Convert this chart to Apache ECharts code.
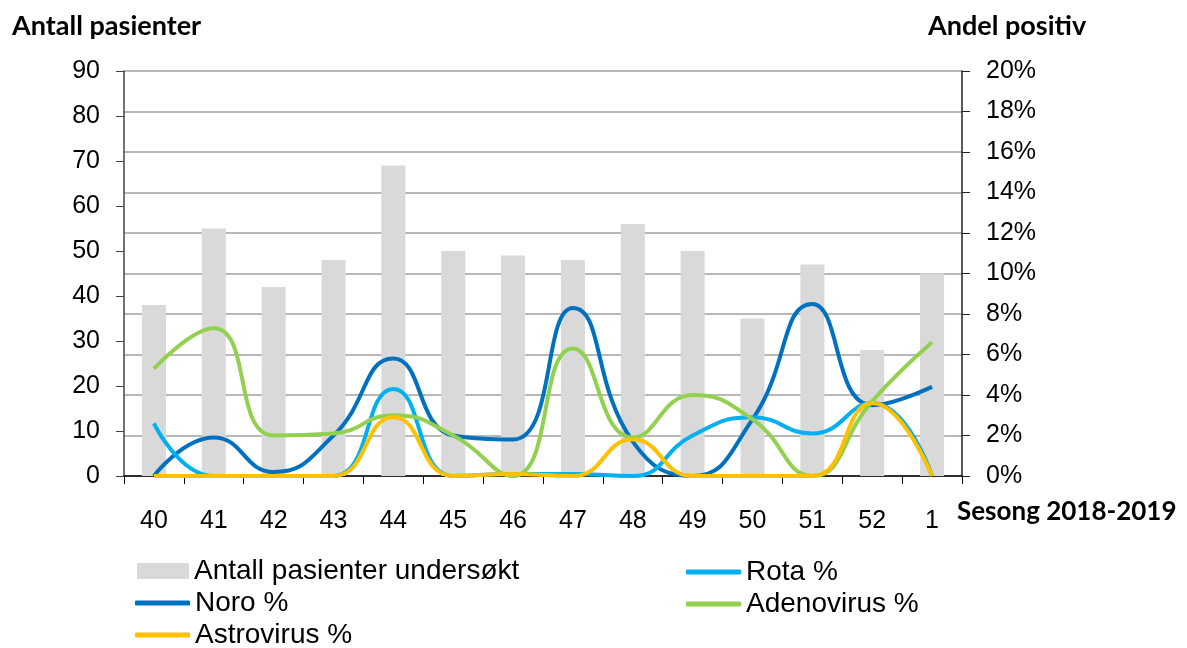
<html lang="no">
<head>
<meta charset="UTF-8">
<title>Antall pasienter</title>
<script src="https://cdn.jsdelivr.net/npm/echarts@6/dist/echarts.min.js"></script>
<style>body{margin:0;background:#fff;}</style>
</head>
<body>
<div id="main" style="width:1187px;height:648px;"></div>
<script type="text/javascript">
var uker = ['40','41','42','43','44','45','46','47','48','49','50','51','52','1'];
var antall = [38,55,42,48,69,50,49,48,56,50,35,47,28,45];
var noro = [0,1.9,0.2,2.0,5.8,2.0,1.8,8.3,1.7,0,2.8,8.5,3.5,4.4];
var rota = [2.6,0,0,0,4.3,0,0.1,0.1,0,2.0,2.9,2.1,3.6,0];
var adeno = [5.3,7.3,2.0,2.1,3.0,2.0,0,6.3,1.9,4.0,2.8,0,3.7,6.6];
var astro = [0,0,0,0,2.9,0,0.1,0,1.8,0,0,0,3.6,0];

var font = 'Liberation Sans, Arial, sans-serif';
var titleFont = 'Lato, sans-serif';

function lineSerie(name, data, color){
	return {
		name: name,
		type: 'line',
		yAxisIndex: 1,
		data: data,
		smooth: 0.5,
		showSymbol: false,
		symbol: 'none',
		lineStyle: {color: color, width: 4},
		itemStyle: {color: color}
	};
}
function legendItem(name, left, top, isBar){
	return {
		data: [name],
		left: left,
		top: top,
		icon: isBar ? 'rect' : 'roundRect',
		itemWidth: isBar ? 52 : 55,
		itemHeight: isBar ? 16 : 5,
		itemGap: 0,
		padding: 0,
		textStyle: {fontFamily: font, fontSize: 28, color: '#000'}
	};
}

var chart = echarts.init(document.getElementById('main'));
var option = {
	animation: false,
	backgroundColor: '#fff',
	title: [
		{text: 'Antall pasienter', left: 7, top: 8, textStyle: {fontFamily: titleFont, fontWeight: 'bold', fontSize: 27, color: '#000'}},
		{text: 'Andel positiv', left: 923, top: 8, textStyle: {fontFamily: titleFont, fontWeight: 'bold', fontSize: 27, color: '#000'}},
		{text: 'Sesong 2018-2019', left: 952, top: 494, textStyle: {fontFamily: titleFont, fontWeight: 'bold', fontSize: 26, color: '#000'}}
	],
	legend: [
		legendItem('Antall pasienter undersøkt', 137, 557, true),
		legendItem('Rota %', 686, 558, false),
		legendItem('Noro %', 135, 589, false),
		legendItem('Adenovirus %', 686, 590, false),
		legendItem('Astrovirus %', 135, 621, false)
	],
	grid: {left: 124, right: 225, top: 71, bottom: 172},
	xAxis: {
		type: 'category',
		data: uker,
		boundaryGap: true,
		axisLine: {lineStyle: {color: '#000', width: 1.5}},
		axisTick: {show: true, length: 8, lineStyle: {color: '#000'}},
		axisLabel: {fontFamily: font, fontSize: 25, color: '#000', margin: 33}
	},
	yAxis: [
		{
			type: 'value', min: 0, max: 90, interval: 10,
			axisLine: {show: true, lineStyle: {color: '#444', width: 1.5}},
			axisTick: {show: true, length: 8, lineStyle: {color: '#444'}},
			splitLine: {show: false},
			axisLabel: {fontFamily: font, fontSize: 25, color: '#000', margin: 24}
		},
		{
			type: 'value', min: 0, max: 20, interval: 2, position: 'right',
			axisLine: {show: true, lineStyle: {color: '#222', width: 1.5}},
			axisTick: {show: true, length: 8, lineStyle: {color: '#222'}},
			splitLine: {show: true, lineStyle: {color: '#A0A0A0', width: 1.5}},
			axisLabel: {fontFamily: font, fontSize: 25, color: '#000', margin: 24, formatter: '{value}%'}
		}
	],
	series: [
		{name: 'Antall pasienter undersøkt', type: 'bar', data: antall, barWidth: 24, itemStyle: {color: '#D9D9D9'}},
		lineSerie('Noro %', noro, '#0070C0'),
		lineSerie('Rota %', rota, '#00B0F0'),
		lineSerie('Adenovirus %', adeno, '#92D050'),
		lineSerie('Astrovirus %', astro, '#FFC000')
	]
};
chart.setOption(option);
</script>
</body>
</html>
